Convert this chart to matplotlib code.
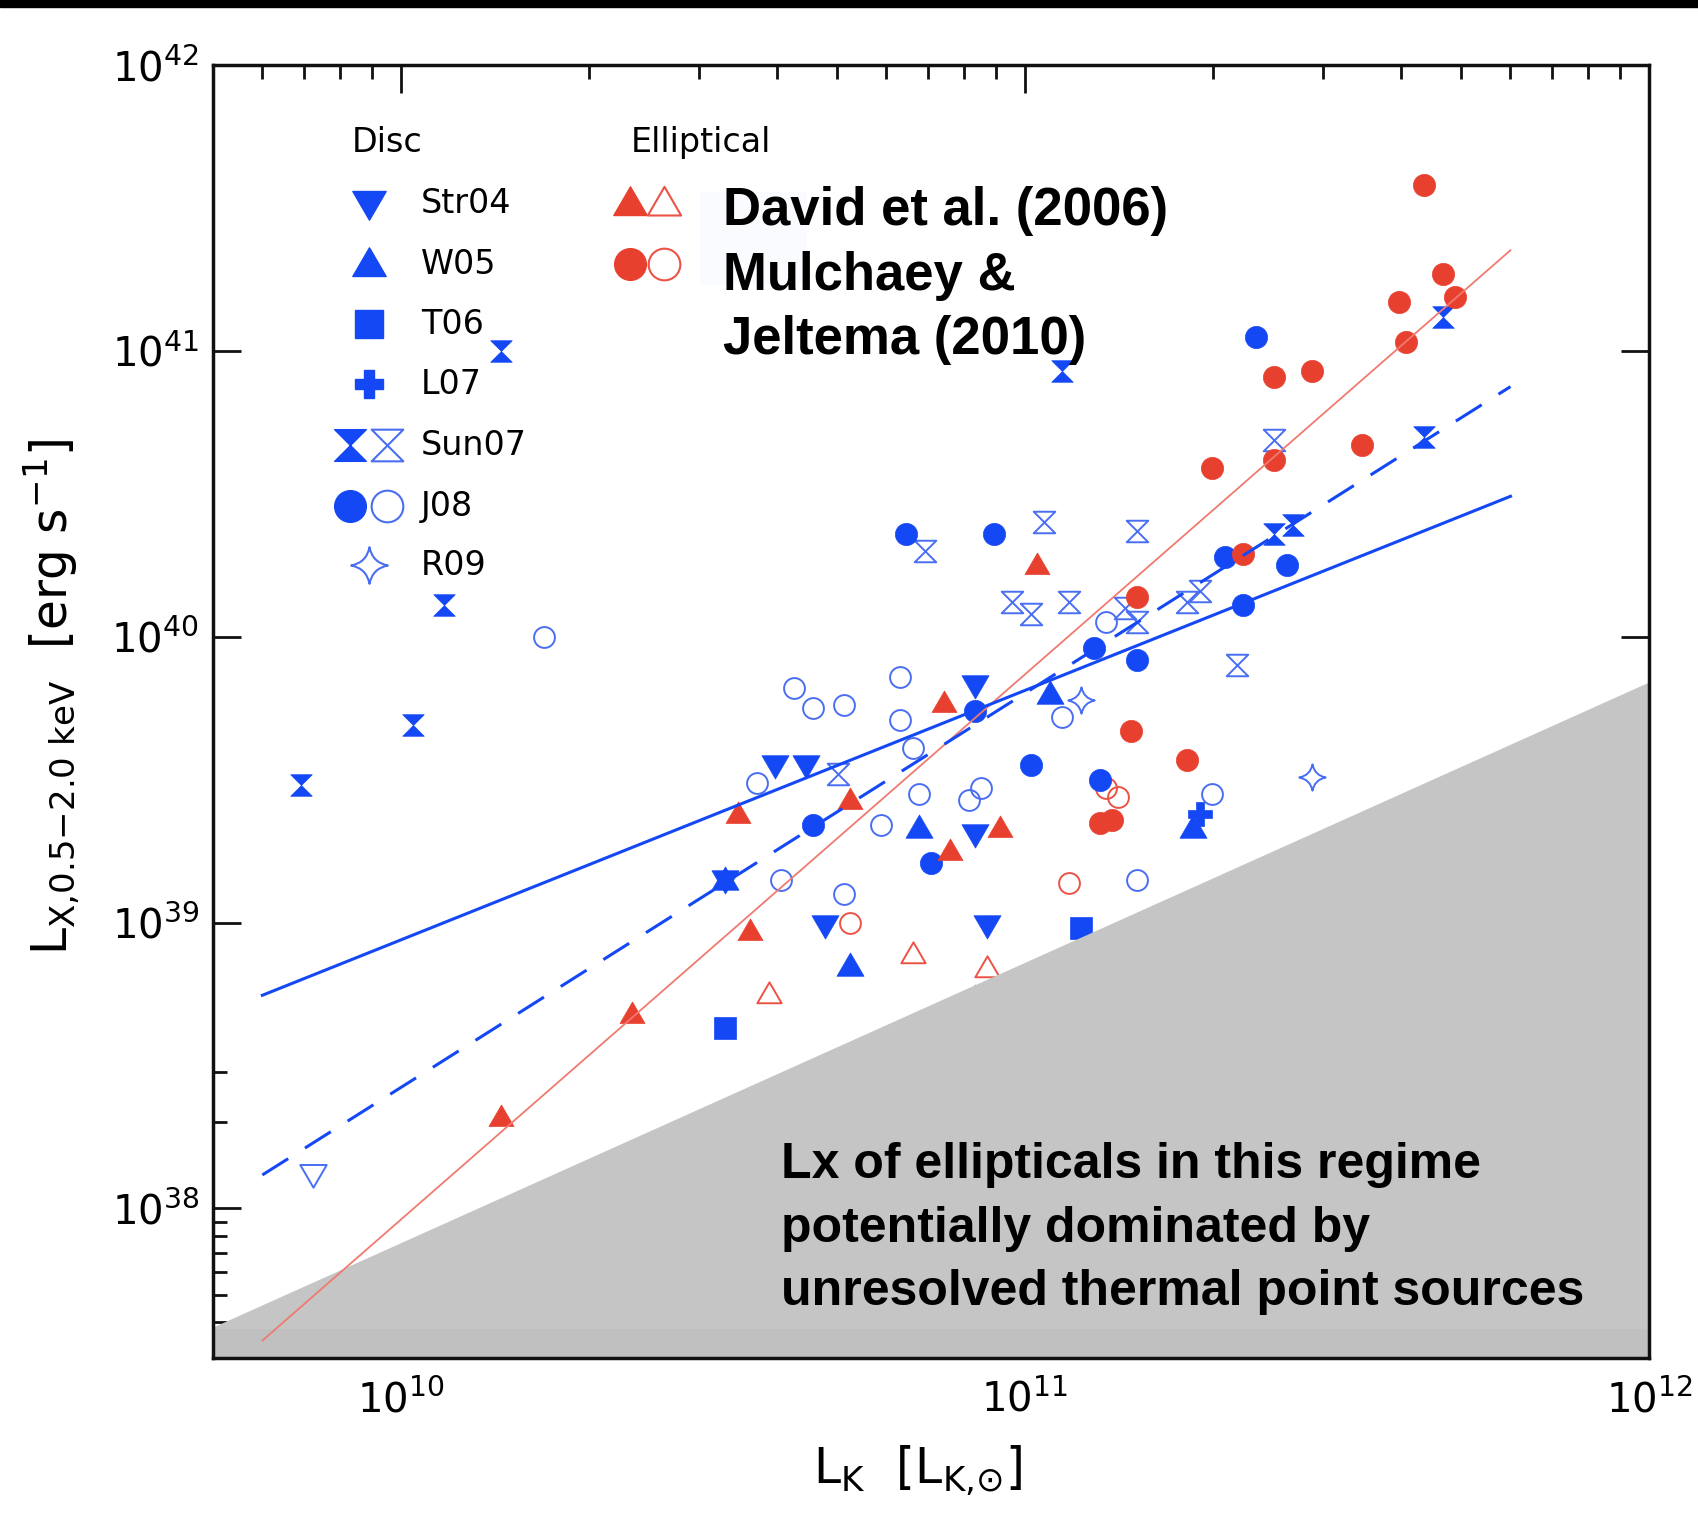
import numpy as np
import matplotlib
matplotlib.use('Agg')
import matplotlib.pyplot as plt
from matplotlib.path import Path
from matplotlib.patches import Rectangle
from matplotlib.ticker import FixedLocator, NullFormatter, FuncFormatter

plt.rcParams['font.family'] = ['DejaVu Sans']
plt.rcParams['mathtext.default'] = 'regular'
plt.rcParams['mathtext.fontset'] = 'dejavusans'

# ---------------- data (log10 L_K [L_K,sun], log10 L_X [erg/s]) ----------------
str04_lk = [10.60, 10.65, 10.92, 10.68, 10.94, 10.92, 10.52]
str04_lx = [39.55, 39.55, 39.83, 38.99, 38.99, 39.31, 39.15]
w05_lk = [11.04, 10.83, 10.72, 11.27, 10.52]
w05_lx = [39.80, 39.33, 38.85, 39.33, 39.15]
t06_lk = [10.52, 11.09]
t06_lx = [38.63, 38.98]
l07_lk = [11.28]
l07_lx = [39.38]
sun07_lk = [10.16, 10.07, 10.02, 9.84, 11.06, 11.67, 11.64, 11.40, 11.43, 10.20]
sun07_lx = [41.00, 40.11, 39.69, 39.48, 40.93, 41.12, 40.70, 40.36, 40.39, 38.00]
sun07_open_lk = [10.84, 11.03, 11.18, 10.98, 11.01, 11.07, 11.16, 11.18, 11.28, 11.26, 11.34, 11.40, 10.70]
sun07_open_lx = [40.30, 40.40, 40.37, 40.12, 40.08, 40.12, 40.10, 40.05, 40.16, 40.12, 39.90, 40.69, 39.52]
j08_lk = [10.81, 10.95, 11.37, 11.32, 11.42, 11.35, 11.11, 11.18, 10.92, 11.01, 11.12, 10.66, 10.85]
j08_lx = [40.36, 40.36, 41.05, 40.28, 40.25, 40.11, 39.96, 39.92, 39.74, 39.55, 39.50, 39.34, 39.21]
j08_open_lk = [10.23, 10.63, 10.66, 10.71, 10.80, 10.80, 10.82, 10.57, 11.06, 11.13,
               10.83, 10.91, 10.93, 10.77, 10.61, 10.71, 11.18, 11.30]
j08_open_lx = [40.00, 39.82, 39.75, 39.76, 39.86, 39.71, 39.61, 39.49, 39.72, 40.05,
               39.45, 39.43, 39.47, 39.34, 39.15, 39.10, 39.15, 39.45]
r09_lk = [11.09, 11.46]
r09_lx = [39.78, 39.51]
disc_open_v_lk = [9.86]
disc_open_v_lx = [38.12]

d06_lk = [11.02, 10.87, 10.54, 10.72, 10.96, 10.88, 10.56, 10.37, 10.16, 10.92]
d06_lx = [40.25, 39.77, 39.38, 39.43, 39.33, 39.25, 38.97, 38.68, 38.32, 38.74]
d06_open_lk = [10.59, 10.82, 10.94]
d06_open_lx = [38.75, 38.89, 38.84]
mj10_lk = [11.64, 11.67, 11.69, 11.60, 11.61, 11.40, 11.46, 11.40, 11.54, 11.30,
           11.35, 11.18, 11.17, 11.26, 11.12, 11.14]
mj10_lx = [41.58, 41.27, 41.19, 41.17, 41.03, 40.91, 40.93, 40.62, 40.67, 40.59,
           40.29, 40.14, 39.67, 39.57, 39.35, 39.36]
mj10_open_lk = [10.72, 11.07, 11.13, 11.15]
mj10_open_lx = [39.00, 39.14, 39.47, 39.44]

# fits
fit_lk = [6.0e9, 6.0e11]
ell_fit = [3.45e37, 2.25e41]
disc_fit = [5.57e38, 3.10e40]
disc_fit_dashed = [1.31e38, 7.50e40]

# unresolved point-source regime
gray_lk = [5e9, 1e12]
gray_top = [3.85e37, 6.95e39]

x_major = [1e10, 1e11, 1e12]
y_major = [1e38, 1e39, 1e40, 1e41, 1e42]
y_minor = [4e37, 5e37, 6e37, 7e37, 8e37, 9e37, 2e38, 3e38]

legend_disc = ['Str04', 'W05', 'T06', 'L07', 'Sun07', 'J08', 'R09']

# ---------------- style ----------------
BLUE = '#1448F5'
BLUE_OPEN = '#4A6EF2'
RED = '#E8402F'
RED_OPEN = '#EC5246'
RED_LINE = '#F07A70'
GRAY = '#C4C5C4'

M, L, C3, CL = Path.MOVETO, Path.LINETO, Path.CURVE3, Path.CLOSEPOLY
hourglass = Path([(-1, 1), (1, 1), (-1, -1), (1, -1), (-1, 1)], [M, L, L, L, CL])
tri_up = Path([(0, 1), (-1, -0.72), (1, -0.72), (0, 1)], [M, L, L, CL])
tri_dn = Path([(0, -1), (-1, 0.72), (1, 0.72), (0, -1)], [M, L, L, CL])
k = 0.16
star4 = Path([(0, 1), (k, k), (1, 0), (k, -k), (0, -1), (-k, -k), (-1, 0), (-k, k), (0, 1), (0, 1)],
             [M, C3, C3, C3, C3, C3, C3, C3, C3, CL])

fig = plt.figure(figsize=(16.98, 15.27), dpi=100)
fig.patches.append(Rectangle((0, 1 - 7 / 1527), 1, 7 / 1527, transform=fig.transFigure,
                             color='black', zorder=10))
ax = fig.add_axes([0.1254, 0.1107, 0.8457, 0.8467])
ax.set_xscale('log')
ax.set_yscale('log')


def P(lk, lx):
    return 10 ** np.array(lk, float), 10 ** np.array(lx, float)


def filled(lk, lx, marker, ms, color):
    x, y = P(lk, lx)
    ax.plot(x, y, ls='none', marker=marker, ms=ms, color=color, mec=color, mew=0.5, zorder=3)


def hollow(lk, lx, marker, ms, color, mew=1.4):
    x, y = P(lk, lx)
    ax.plot(x, y, ls='none', marker=marker, ms=ms, mfc='none', mec=color, mew=mew, zorder=3)


hollow(j08_open_lk, j08_open_lx, 'o', 15, BLUE_OPEN)
hollow(sun07_open_lk, sun07_open_lx, hourglass, 15.5, BLUE_OPEN)
hollow(r09_lk, r09_lx, star4, 19, BLUE_OPEN)
hollow(disc_open_v_lk, disc_open_v_lx, tri_dn, 19, BLUE_OPEN)
hollow(d06_open_lk, d06_open_lx, tri_up, 17.5, RED_OPEN)
hollow(mj10_open_lk, mj10_open_lx, 'o', 15, RED_OPEN)
filled(str04_lk, str04_lx, tri_dn, 19.5, BLUE)
filled(w05_lk, w05_lx, tri_up, 19.5, BLUE)
filled(t06_lk, t06_lx, 's', 15.5, BLUE)
filled(l07_lk, l07_lx, 'P', 17, BLUE)
filled(sun07_lk, sun07_lx, hourglass, 15.5, BLUE)
filled(j08_lk, j08_lx, 'o', 16, BLUE)
filled(d06_lk, d06_lx, tri_up, 18, RED)
filled(mj10_lk, mj10_lx, 'o', 16, RED)

# gray regime (covers points beneath it)
ax.fill_between(gray_lk, [3e37, 3e37], gray_top, color=GRAY, lw=0, zorder=4)
ax.fill_between(gray_lk, [3e37, 3e37], [3.8e37, 3.8e37], color='#C0C0C0', lw=0, zorder=4.1)

# fits
ax.plot(fit_lk, ell_fit, color=RED_LINE, lw=1.3, zorder=5)
ax.plot(fit_lk, disc_fit, color=BLUE, lw=2.2, zorder=5)
ax.plot(fit_lk, disc_fit_dashed, color=BLUE, lw=2.2, ls=(0, (10, 6.5)), zorder=5)

ax.set_xlim(5e9, 1e12)
ax.set_ylim(3e37, 1e42)
ax.xaxis.set_major_locator(FixedLocator(x_major))
x_minor = [m * 10 ** e for e in (9, 10, 11) for m in range(2, 10) if 5e9 < m * 10 ** e < 1e12]
ax.xaxis.set_minor_locator(FixedLocator(x_minor))
ax.yaxis.set_major_locator(FixedLocator(y_major))
ax.yaxis.set_minor_locator(FixedLocator(y_minor))
fmt = FuncFormatter(lambda v, p: r'$10^{%d}$' % round(np.log10(v)))
ax.xaxis.set_major_formatter(fmt)
ax.yaxis.set_major_formatter(fmt)
ax.xaxis.set_minor_formatter(NullFormatter())
ax.yaxis.set_minor_formatter(NullFormatter())
ax.tick_params(which='both', direction='in', top=True, right=True, width=2.0, color='#111111')
ax.tick_params(which='major', length=20, labelsize=29)
ax.tick_params(axis='y', which='major', pad=10)
ax.tick_params(axis='x', which='major', pad=16)
ax.tick_params(which='minor', length=10)
for s in ax.spines.values():
    s.set_linewidth(2.5)
    s.set_color('#111111')
    s.set_zorder(6)

ax.set_xlabel(r'$L_K\ \ [L_{K{,}{\odot}}]$', fontsize=35)
ax.xaxis.set_label_coords(0.491, -0.066)
ax.set_ylabel(r'$L_{X{,}0.5{-}2.0\ keV}\ \ [erg\ s^{-1}]$', fontsize=35)
ax.yaxis.set_label_coords(-0.092, 0.511)

# ---------------- legend / annotations overlay ----------------
ov = fig.add_axes(ax.get_position(), facecolor='none')
ov.set_xlim(0, 1)
ov.set_ylim(0, 1)
ov.axis('off')

LMS = 24
rows = [0.8933, 0.8461, 0.7997, 0.7533, 0.7061, 0.6589, 0.6133]
xs, xp1, xp2, xl = 0.1086, 0.0954, 0.1212, 0.1448
ov.text(0.0968, 0.9404, 'Disc', fontsize=24, va='center', ha='left')
ov.text(0.291, 0.9404, 'Elliptical', fontsize=24, va='center', ha='left')
ov.plot([xs], [rows[0]], marker=tri_dn, ms=LMS, color=BLUE, ls='none')
ov.plot([xs], [rows[1]], marker=tri_up, ms=LMS, color=BLUE, ls='none')
ov.plot([xs], [rows[2]], marker='s', ms=LMS * 0.85, color=BLUE, ls='none')
ov.plot([xs], [rows[3]], marker='P', ms=LMS * 0.85, color=BLUE, ls='none')
ov.plot([xp1], [rows[4]], marker=hourglass, ms=LMS * 0.95, color=BLUE, ls='none')
ov.plot([xp2], [rows[4]], marker=hourglass, ms=LMS * 0.95, mfc='none', mec=BLUE_OPEN, mew=1.5, ls='none')
ov.plot([xp1], [rows[5]], marker='o', ms=LMS * 0.95, color=BLUE, ls='none')
ov.plot([xp2], [rows[5]], marker='o', ms=LMS * 0.95, mfc='none', mec=BLUE_OPEN, mew=1.5, ls='none')
ov.plot([xs], [rows[6]], marker=star4, ms=LMS * 1.1, mfc='none', mec=BLUE_OPEN, mew=1.5, ls='none')
for r, lab in zip(rows, legend_disc):
    ov.text(xl, r, lab, fontsize=24, va='center', ha='left')
ov.plot([0.2904], [rows[0]], marker=tri_up, ms=LMS, color=RED, ls='none')
ov.plot([0.314], [rows[0]], marker=tri_up, ms=LMS, mfc='none', mec=RED_OPEN, mew=1.5, ls='none')
ov.plot([0.2904], [rows[1]], marker='o', ms=LMS * 0.95, color=RED, ls='none')
ov.plot([0.314], [rows[1]], marker='o', ms=LMS * 0.95, mfc='none', mec=RED_OPEN, mew=1.5, ls='none')

ov.add_patch(Rectangle((0.339, 0.830), 0.0746, 0.072, color='#F9FBFF', lw=0, zorder=1))
bold = dict(family=['Liberation Sans', 'DejaVu Sans'], fontweight='bold', ha='left', va='baseline', zorder=8)
ov.text(0.355, 0.876, 'David et al. (2006)', fontsize=38, **bold)
ov.text(0.355, 0.826, 'Mulchaey &', fontsize=38, **bold)
ov.text(0.355, 0.7765, 'Jeltema (2010)', fontsize=38, **bold)
ov.text(0.3955, 0.139, 'Lx of ellipticals in this regime', fontsize=36, **bold)
ov.text(0.3955, 0.0897, 'potentially dominated by', fontsize=36, **bold)
ov.text(0.3955, 0.041, 'unresolved thermal point sources', fontsize=36, **bold)

fig.savefig('out.png', dpi=100)
